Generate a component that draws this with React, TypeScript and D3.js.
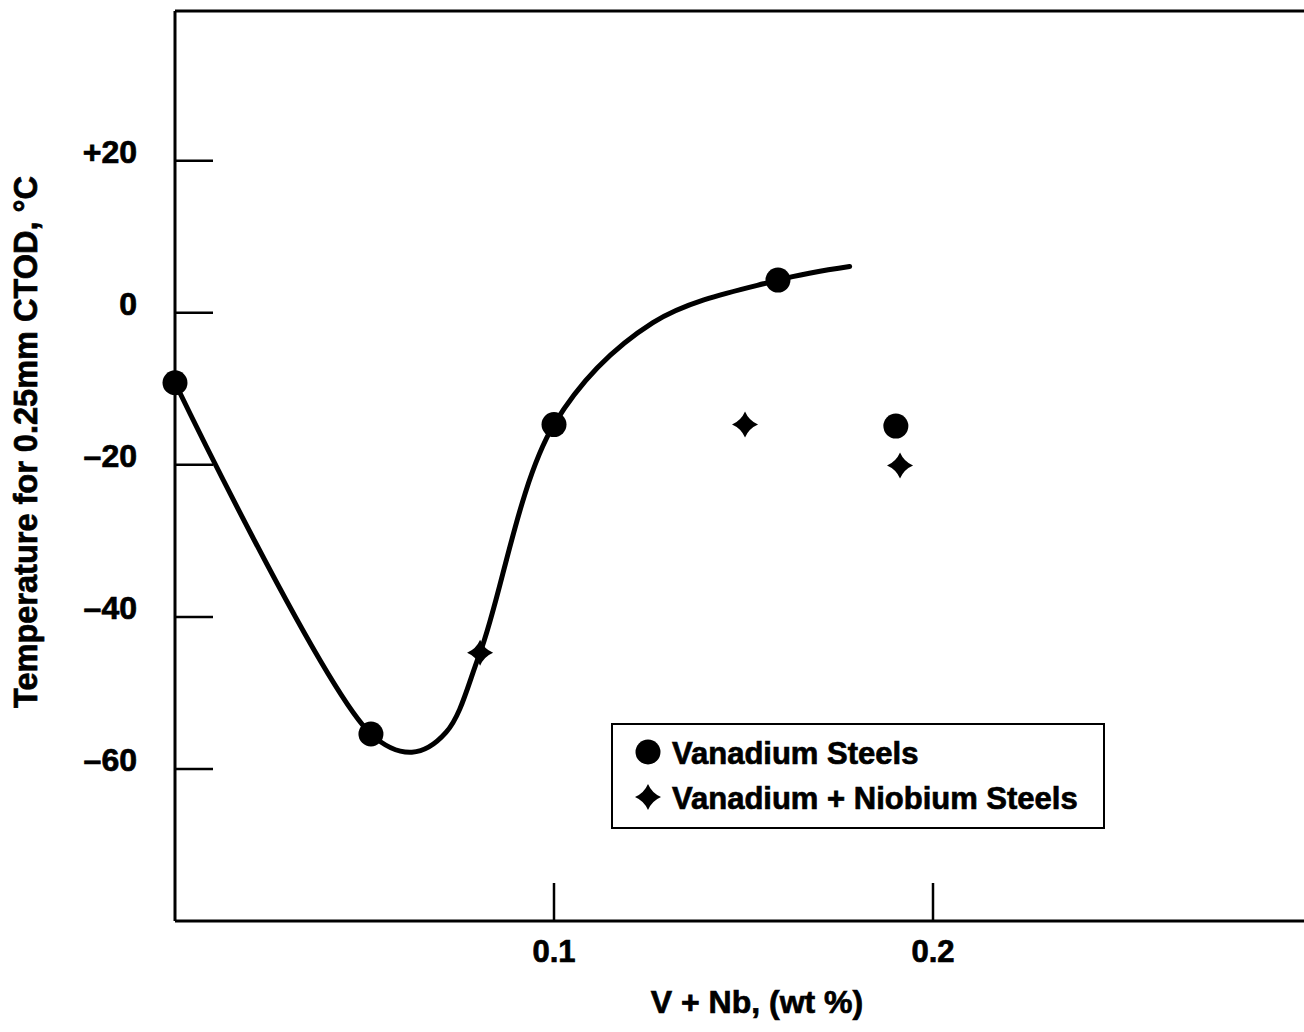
import React from "react";
import * as d3 from "d3";

// Measured points: V + Nb content (wt %) vs. temperature for 0.25 mm CTOD (°C)
const vanadiumX = [0.0, 0.0517, 0.1, 0.1591, 0.1902];
const vanadiumY = [-9.2, -55.4, -14.7, 4.3, -14.9];
const niobiumX = [0.0805, 0.1504, 0.1913];
const niobiumY = [-44.7, -14.7, -20.1];

// Hand-drawn trend curve through the vanadium steels
const trendX = [0.0, 0.0517, 0.0625, 0.0715, 0.0805, 0.1, 0.1261, 0.1591, 0.178];
const trendY = [-9.2, -55.4, -57.8, -55.2, -44.7, -14.7, -1.3, 4.3, 6.1];

const yTicks = [20, 0, -20, -40, -60];
const yTickLabels = ["+20", "0", "–20", "–40", "–60"];
const xTicks = [0.1, 0.2];
const xTickLabels = ["0.1", "0.2"];

const legendLabels = ["Vanadium Steels", "Vanadium + Niobium Steels"];

const W = 1304;
const H = 1032;
const FONT = "'Liberation Sans', Arial, Helvetica, sans-serif";

const x = d3.scaleLinear().domain([0, 0.3]).range([175, 1312]);
const y = d3.scaleLinear().domain([-80, 39.7]).range([921, 11]);

function starPath(cx: number, cy: number, r: number): string {
  const p = d3.path();
  const k = r * 0.3;
  p.moveTo(cx, cy - r);
  p.quadraticCurveTo(cx + k, cy - k, cx + r, cy);
  p.quadraticCurveTo(cx + k, cy + k, cx, cy + r);
  p.quadraticCurveTo(cx - k, cy + k, cx - r, cy);
  p.quadraticCurveTo(cx - k, cy - k, cx, cy - r);
  p.closePath();
  return p.toString();
}

const textStyle = { stroke: "#000", strokeWidth: 0.7 };

export default function App() {
  const trend = d3
    .line<number>()
    .x((_, i) => x(trendX[i]))
    .y((d) => y(d))
    .curve(d3.curveCatmullRom.alpha(0.5))(trendY) as string;

  const x0 = x(0);
  const yTop = y.range()[1];
  const yBot = y.range()[0];
  const tickLen = 38;

  const legend = { x: 612, y: 724, w: 492, h: 104 };

  return (
    <svg
      width={W}
      height={H}
      style={{ position: "absolute", left: 0, top: 0, background: "#fff" }}
      fontFamily={FONT}
      fontWeight="bold"
    >
      <rect x={0} y={0} width={W} height={H} fill="#fff" />

      {/* frame */}
      <line x1={x0} y1={yTop} x2={W} y2={yTop} stroke="#000" strokeWidth={3} />
      <line x1={x0} y1={yBot} x2={W} y2={yBot} stroke="#000" strokeWidth={3} />
      <line x1={x0} y1={yTop} x2={x0} y2={yBot} stroke="#000" strokeWidth={3} />

      {/* y ticks */}
      {yTicks.map((t, i) => (
        <g key={"yt" + t}>
          <line x1={x0} y1={y(t)} x2={x0 + tickLen} y2={y(t)} stroke="#000" strokeWidth={2.5} />
          <text x={137} y={y(t) + 2} textAnchor="end" fontSize={32} {...textStyle}>
            {yTickLabels[i]}
          </text>
        </g>
      ))}

      {/* x ticks */}
      {xTicks.map((t, i) => (
        <g key={"xt" + t}>
          <line x1={x(t)} y1={yBot} x2={x(t)} y2={yBot - tickLen} stroke="#000" strokeWidth={2.5} />
          <text x={x(t)} y={962} textAnchor="middle" fontSize={31} {...textStyle}>
            {xTickLabels[i]}
          </text>
        </g>
      ))}

      {/* axis titles */}
      <text x={757} y={1013} textAnchor="middle" fontSize={32} {...textStyle}>
        V + Nb, (wt %)
      </text>
      <text
        transform={`translate(37, 442) rotate(-90)`}
        textAnchor="middle"
        fontSize={32.5}
        {...textStyle}
      >
        Temperature for 0.25mm CTOD, °C
      </text>

      {/* trend curve */}
      <path d={trend} fill="none" stroke="#000" strokeWidth={5} strokeLinecap="round" />

      {/* markers */}
      {vanadiumX.map((v, i) => (
        <circle key={"v" + i} cx={x(v)} cy={y(vanadiumY[i])} r={12.5} fill="#000" />
      ))}
      {niobiumX.map((v, i) => (
        <path key={"n" + i} d={starPath(x(v), y(niobiumY[i]), 13)} fill="#000" />
      ))}

      {/* legend */}
      <rect x={legend.x} y={legend.y} width={legend.w} height={legend.h} fill="#fff" stroke="#000" strokeWidth={2} />
      <circle cx={648} cy={752} r={12.5} fill="#000" />
      <path d={starPath(648, 797, 13)} fill="#000" />
      <text x={672} y={764} fontSize={31} {...textStyle}>
        {legendLabels[0]}
      </text>
      <text x={672} y={809} fontSize={31} {...textStyle}>
        {legendLabels[1]}
      </text>
    </svg>
  );
}
